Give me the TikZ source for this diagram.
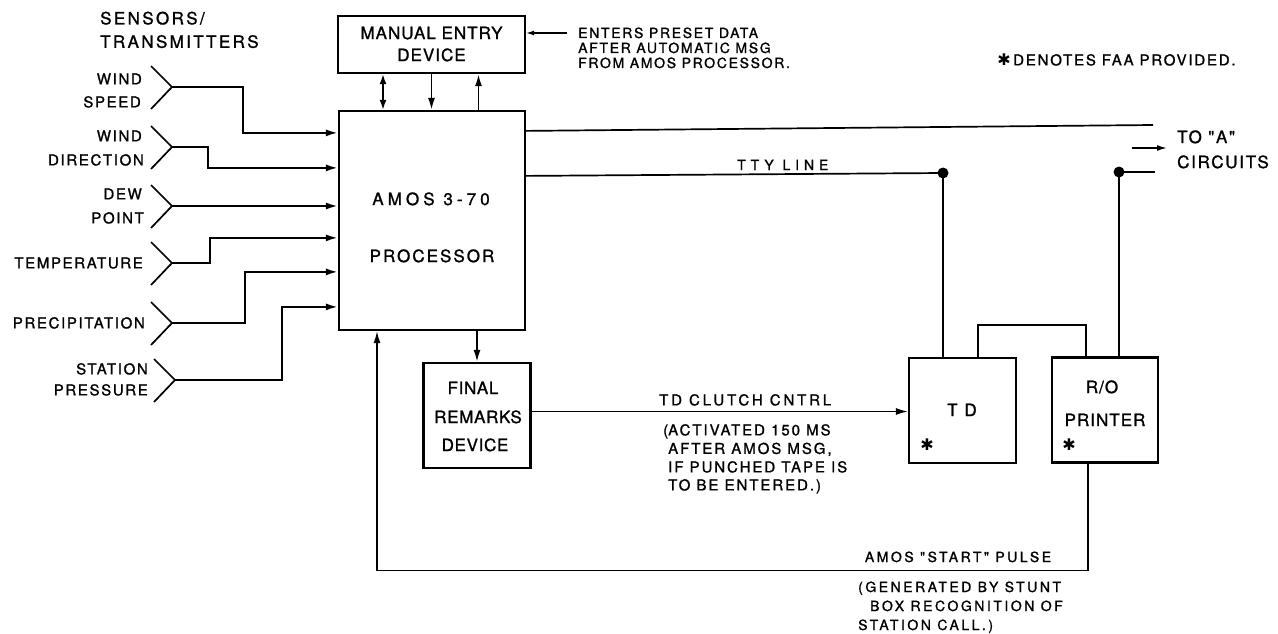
\documentclass[tikz,border=0pt]{standalone}
\usepackage{fontspec}
\usetikzlibrary{arrows.meta}
\newfontfamily\symf{DejaVu Sans}
\newcommand\hv[2]{\fontspec[LetterSpace=#1,FakeBold=1.2]{TeX Gyre Heros}\fontsize{#2}{#2}\selectfont}
\begin{document}
\begin{tikzpicture}[x=1pt,y=-1pt,
  tx/.style n args={3}{inner sep=0pt, font=\hv{#1}{#2}, text height=#3pt, text depth=0pt},
  box/.style={draw, line width=2.2pt, inner sep=0pt},
  ln/.style={line width=1.7pt},
  sl/.style={line width=2pt},
  arr/.style={line width=1.8pt, -{Latex[length=12pt,width=7pt]}},
  dot/.style={circle, fill, inner sep=0pt, minimum size=11pt},
  star/.style={inner sep=0pt, font=\symf\fontsize{16}{16}\selectfont}]
\useasboundingbox (0,0) rectangle (1278,634);

% boxes
\node[box, minimum width=187pt, minimum height=57pt] (man) at (431.5,44.5) {};
\node[box, minimum width=186pt, minimum height=219pt] (amos) at (432,220.5) {};
\node[box, minimum width=107pt, minimum height=105pt] (fin) at (477,415.5) {};
\node[box, minimum width=107pt, minimum height=105pt] (td) at (962.5,410.5) {};
\node[box, minimum width=106pt, minimum height=105pt] (prn) at (1105,410) {};

% box texts
\node[tx={6}{17}{12.2}] (manT1) at (431.5,33) {MANUAL ENTRY};
\node[tx={6}{17}{12.2}] (manT2) at (431.5,55) {DEVICE};
\node[tx={24}{17}{12.2}] (amosT1) at (431,199) {AMOS 3-70};
\node[tx={12}{17}{12.2}] (amosT2) at (432,256) {PROCESSOR};
\node[tx={4}{17}{12.2}] (finT1) at (473,388) {FINAL};
\node[tx={4}{17}{12.2}] (finT2) at (478,417) {REMARKS};
\node[tx={4}{17}{12.2}] (finT3) at (475,445) {DEVICE};
\node[tx={12}{17}{12.2}] (tdT) at (962,410) {T D};
\node[tx={6}{17}{12.2}] (prnT1) at (1102,387) {R/O};
\node[tx={6}{17}{12.2}] (prnT2) at (1105,420) {PRINTER};
\node[star] (tdS) at (927,445) {✱};
\node[star] (prnS) at (1069,445) {✱};

% header and sensor labels
\node[tx={14}{17}{12.2}, anchor=west] (h1) at (100,18.3) {SENSORS/};
\node[tx={14}{17}{12.2}, anchor=west] (h2) at (100,41.7) {TRANSMITTERS};
\node[tx={11}{15}{10.8}, anchor=east] (l1a) at (142,79) {WIND};
\node[tx={11}{15}{10.8}, anchor=east] (l1b) at (141,102) {SPEED};
\node[tx={11}{15}{10.8}, anchor=east] (l2a) at (142,136) {WIND};
\node[tx={11}{15}{10.8}, anchor=east] (l2b) at (144,160) {DIRECTION};
\node[tx={11}{15}{10.8}, anchor=east] (l3a) at (142,194) {DEW};
\node[tx={11}{15}{10.8}, anchor=east] (l3b) at (144,218) {POINT};
\node[tx={11}{15}{10.8}, anchor=east] (l4) at (143,263) {TEMPERATURE};
\node[tx={11}{15}{10.8}, anchor=east] (l5) at (145,323) {PRECIPITATION};
\node[tx={11}{15}{10.8}, anchor=east] (l6a) at (148,369) {STATION};
\node[tx={11}{15}{10.8}, anchor=east] (l6b) at (148,390) {PRESSURE};

% annotations
\node[tx={12}{14}{10}, anchor=west] (e1) at (578,33) {ENTERS PRESET DATA};
\node[tx={12}{14}{10}, anchor=west] (e2) at (578,48) {AFTER AUTOMATIC MSG};
\node[tx={12}{14}{10}, anchor=west] (e3) at (578,63) {FROM AMOS PROCESSOR.};
\node[star, anchor=east] (fS) at (1011,60) {✱};
\node[tx={12}{15}{10.8}, anchor=west] (fT) at (1013,60) {DENOTES FAA PROVIDED.};
\node[tx={35}{14}{10}, anchor=west] (tty) at (737,165) {TTY LINE};
\node[tx={10}{17}{12.2}, anchor=west] (toA1) at (1177,137) {TO "A"};
\node[tx={10}{17}{12.2}, anchor=west] (toA2) at (1177,162) {CIRCUITS};
\node[tx={19}{15}{10.8}, anchor=west] (clu) at (659,400) {TD CLUTCH CNTRL};
\node[tx={13}{15}{10.8}, anchor=west] (c1) at (668,430) {\llap{(}ACTIVATED 150 MS};
\node[tx={13}{15}{10.8}, anchor=west] (c2) at (668,448.5) {AFTER AMOS MSG,};
\node[tx={13}{15}{10.8}, anchor=west] (c3) at (668,467) {IF PUNCHED TAPE IS};
\node[tx={13}{15}{10.8}, anchor=west] (c4) at (668,485) {TO BE ENTERED.)};
\node[tx={18}{14}{10}] (pul) at (958,557) {AMOS "START" PULSE};
\node[tx={18}{14}{10}, anchor=west] (g1) at (858,587) {(GENERATED BY STUNT};
\node[tx={18}{14}{10}, anchor=west] (g2) at (870,606) {BOX RECOGNITION OF};
\node[tx={18}{14}{10}, anchor=west] (g3) at (858,625) {STATION CALL.)};

% sensors
\coordinate (s1) at (172,87);
\coordinate (s2) at (172,147);
\coordinate (s3) at (172,206);
\coordinate (s4) at (172,263);
\coordinate (s5) at (172,323);
\coordinate (s6) at (175,380);
\foreach \s in {s1,s2,s3,s4,s5,s6}
  \draw[ln] (\s) ++(-21,-21) -- (\s) -- ++(-21,22);
\draw[arr, sl] (s1) -- ++(71,0) |- ([yshift=-23pt]amos.north west);
\draw[arr, sl] (s2) -- ++(36,0) |- ([yshift=-58pt]amos.north west);
\draw[arr, sl] (s3) -- (s3 -| amos.west);
\draw[arr, sl] (s4) -- ++(38,0) |- ([yshift=-128pt]amos.north west);
\draw[arr, sl] (s5) -- ++(73,0) |- ([yshift=-162pt]amos.north west);
\draw[arr, sl] (s6) -- ++(107,0) |- ([yshift=-197pt]amos.north west);

% manual entry <-> amos
\draw[line width=1.8pt, {Latex[length=10pt,width=7pt]}-{Latex[length=10pt,width=7pt]}] ([xshift=-48.5pt]man.south) -- ([xshift=-49pt]amos.north);
\draw[arr] (man.south) -- (man.south |- amos.north);
\draw[arr] ([xshift=46.5pt]amos.north) -- ([xshift=46.5pt]amos.north |- man.south);
\coordinate (entc) at (567,33);
\draw[line width=1.3pt, -{Latex[length=8pt,width=5pt]}] (entc) -- (entc -| man.east);

% outputs
\coordinate (topend) at (1153,125);
\draw[ln] ([yshift=-21pt]amos.north east) -- (topend);
\node[dot] (d1) at (943,173) {};
\draw[ln] ([yshift=-66pt]amos.north east) -- (d1.center);
\draw[ln] (d1.center) -- (d1.center |- td.north);
\node[dot] (d2) at (1119,172) {};
\coordinate (d2e) at (1155,172);
\draw[ln] (d2.center) -- (d2e);
\draw[ln] (d2.center) -- (d2.center |- prn.north);
\coordinate (ta1) at (1132,148);
\coordinate (ta2) at (1167,148);
\draw[line width=1.5pt, -{Latex[length=10pt,width=6pt]}] (ta1) -- (ta2);
\draw[ln] ([xshift=15.5pt]td.north) -- ++(0,-32) -| ([xshift=-19pt]prn.north);

% final remarks
\draw[arr] (amos.south -| fin.north) -- (fin.north);
\draw[arr, line width=1.6pt] ([yshift=4pt]fin.east) -- ([yshift=4pt]fin.east -| td.west);

% feedback
\draw[arr, line width=1.6pt] ([xshift=-17pt]prn.south) -- ++(0,107) -| ([xshift=-55pt]amos.south);
\end{tikzpicture}
\end{document}
